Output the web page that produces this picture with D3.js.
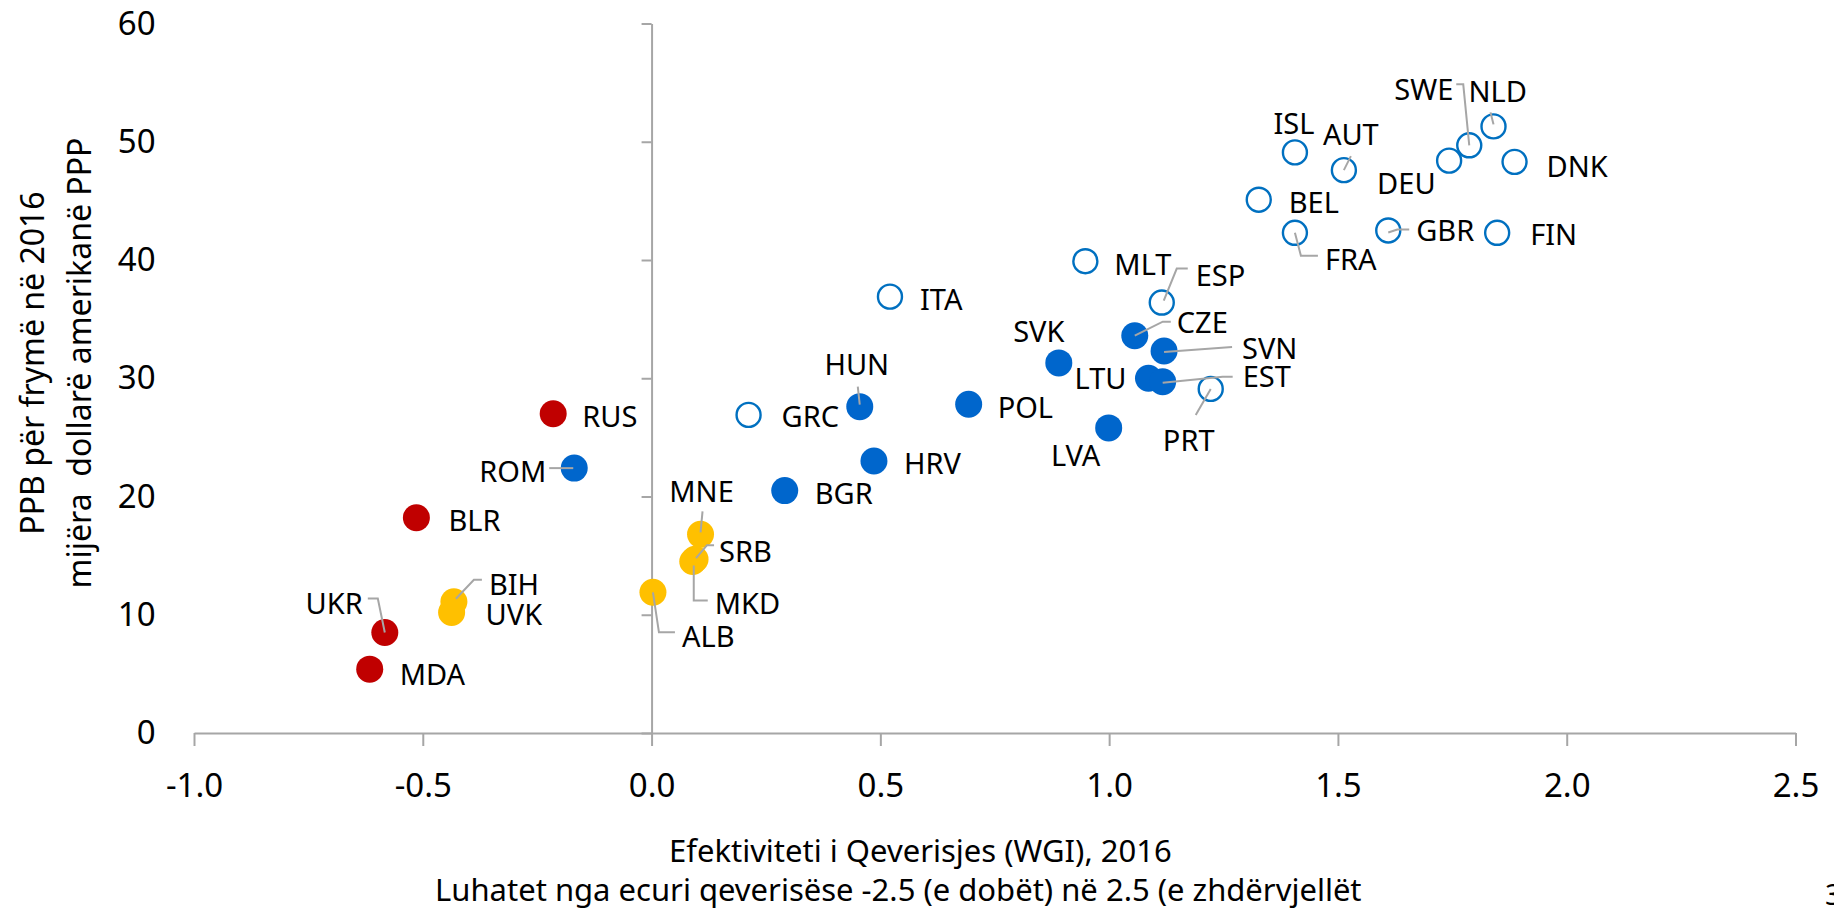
<!DOCTYPE html>
<html>
<head>
<meta charset="utf-8">
<script src="https://cdn.jsdelivr.net/npm/d3@7"></script>
<style>
  body { margin: 0; background: #fff; }
  svg text { font-family: "Noto Sans", "Open Sans", sans-serif; fill: #000; }
</style>
</head>
<body>
<svg width="1834" height="913"></svg>
<script>
// values
var countries = ["RUS", "ROM", "BLR", "UKR", "MDA", "BIH", "UVK", "ALB", "MNE", "SRB", "MKD",
    "GRC", "HUN", "BGR", "HRV", "ITA", "POL", "SVK", "MLT", "LVA", "ESP", "CZE", "SVN", "LTU",
    "EST", "PRT", "BEL", "FRA", "ISL", "AUT", "GBR", "DEU", "SWE", "NLD", "DNK", "FIN"];
var govEff = [-0.215, -0.169, -0.514, -0.583, -0.616, -0.432, -0.437, 0.003, 0.107, 0.095, 0.09,
    0.212, 0.455, 0.291, 0.486, 0.521, 0.693, 0.89, 0.948, 0.999, 1.115, 1.056, 1.12, 1.086,
    1.117, 1.222, 1.327, 1.406, 1.406, 1.513, 1.61, 1.743, 1.787, 1.84, 1.886, 1.848];
var gdpPc = [27.0, 22.4, 18.2, 8.5, 5.4, 11.1, 10.2, 11.9, 16.8, 14.7, 14.5,
    26.9, 27.6, 20.5, 23.0, 36.9, 27.8, 31.3, 39.9, 25.8, 36.4, 33.6, 32.3, 30.0,
    29.7, 29.1, 45.1, 42.3, 49.1, 47.6, 42.5, 48.4, 49.7, 51.3, 48.3, 42.3];
var groups = ["cis", "new", "cis", "cis", "cis", "wb", "wb", "wb", "wb", "wb", "wb",
    "old", "new", "new", "new", "old", "new", "new", "old", "new", "old", "new", "new", "new",
    "new", "old", "old", "old", "old", "old", "old", "old", "old", "old", "old", "old"];
var xTicks = [-1.0, -0.5, 0.0, 0.5, 1.0, 1.5, 2.0, 2.5];
var yTicks = [0, 10, 20, 30, 40, 50, 60];

// label placement (px from the marker) and leader lines
var labelPos = {
    RUS: [29, 3, "start"], ROM: [-28, 3, "end"], BLR: [32, 3, "start"], UKR: [-22, -29, "end"],
    MDA: [30, 5, "start"], BIH: [35, -17, "start"], UVK: [34, 2, "start"], ALB: [29, 44, "start"],
    MNE: [1, -43, "middle"], SRB: [24, -8, "start"], MKD: [22, 42, "start"], GRC: [33, 2, "start"],
    HUN: [-3, -42, "middle"], BGR: [30, 3, "start"], HRV: [30, 3, "start"], ITA: [30, 3, "start"],
    POL: [29, 3, "start"], SVK: [-20, -31, "middle"], MLT: [29, 3, "start"], LVA: [-33, 28, "middle"],
    ESP: [34, -27, "start"], CZE: [42, -13, "start"], SVN: [78, -2, "start"], LTU: [-22, 0, "end"],
    EST: [80, -5, "start"], PRT: [-22, 52, "middle"], BEL: [30, 3, "start"], FRA: [30, 27, "start"],
    ISL: [-1, -29, "middle"], AUT: [-21, -36, "start"], GBR: [28, 0, "start"], DEU: [-72, 23, "start"],
    SWE: [-16, -56, "end"], NLD: [-25, -35, "start"], DNK: [32, 5, "start"], FIN: [33, 2, "start"]
};
var leaders = {
    ROM: [[-25, 0], [-1, 0]],
    UKR: [[-17, -34], [-7, -34], [0, 0]],
    BIH: [[28, -22], [20, -22], [2, -3]],
    ALB: [[0, 0], [6, 40], [22, 40]],
    MNE: [[2, -23], [0, -2]],
    SRB: [[19, -14], [12, -14], [1, -1]],
    MKD: [[1, 4], [1, 39], [15, 39]],
    HUN: [[-2, -20], [0, -2]],
    ESP: [[26, -34], [15, -34], [2, -2]],
    CZE: [[36, -14], [28, -14], [0, 0]],
    SVN: [[0, 1], [68, -4]],
    EST: [[0, 1], [60, -5], [70, -5]],
    PRT: [[-15, 26], [0, 0]],
    FRA: [[0, 0], [6, 23], [23, 23]],
    AUT: [[0, 0], [7, -14]],
    GBR: [[0, 2], [9, -1], [21, -1]],
    SWE: [[-13, -61], [-6, -61], [0, 0]],
    NLD: [[-3, -14], [0, -2]]
};

var colors = { cis: "#C00000", new: "#0066CC", wb: "#FFC000", old: "#0070C0" };

var svg = d3.select("svg");
var x = d3.scaleLinear().domain([-1, 2.5]).range([194, 1795.5]);
var y = d3.scaleLinear().domain([0, 60]).range([733, 23.5]);

var data = countries.map(function (c, i) {
    return { name: c, gx: govEff[i], gy: gdpPc[i], group: groups[i] };
});

// axes
var xAxis = svg.append("g")
    .attr("transform", "translate(0," + y(0) + ")")
    .call(d3.axisBottom(x).tickValues(xTicks).tickFormat(d3.format(".1f"))
        .tickSizeInner(13).tickSizeOuter(0).tickPadding(28));

var yAxis = svg.append("g")
    .attr("transform", "translate(" + x(0) + ",0)")
    .call(d3.axisLeft(y).tickValues(yTicks).tickSizeInner(10).tickSizeOuter(0).tickPadding(486));

[xAxis, yAxis].forEach(function (a) {
    a.selectAll("path, line").attr("stroke", "#A6A6A6").attr("stroke-width", 2);
    a.selectAll("text").attr("font-size", 33).attr("fill", "#000")
        .style("font-family", "'Noto Sans', sans-serif");
});
xAxis.selectAll("text").text(function (d) { return d3.format(".1f")(d).replace("−", "-"); });

// markers
svg.append("g").selectAll("circle")
    .data(data)
    .enter().append("circle")
    .attr("cx", function (d) { return x(d.gx); })
    .attr("cy", function (d) { return y(d.gy); })
    .attr("r", function (d) { return d.group == "old" ? 12 : 13.5; })
    .attr("fill", function (d) { return d.group == "old" ? "#fff" : colors[d.group]; })
    .attr("stroke", function (d) { return d.group == "old" ? colors.old : "none"; })
    .attr("stroke-width", 2.4);

// leader lines
var line = d3.line();
svg.append("g").selectAll("path")
    .data(data.filter(function (d) { return leaders[d.name]; }))
    .enter().append("path")
    .attr("d", function (d) {
        var px = x(d.gx), py = y(d.gy);
        return line(leaders[d.name].map(function (p) { return [px + p[0], py + p[1]]; }));
    })
    .attr("fill", "none")
    .attr("stroke", "#A6A6A6")
    .attr("stroke-width", 2);

// country labels
svg.append("g").selectAll("text")
    .data(data)
    .enter().append("text")
    .attr("x", function (d) { return x(d.gx) + labelPos[d.name][0]; })
    .attr("y", function (d) { return y(d.gy) + labelPos[d.name][1]; })
    .attr("dy", "0.36em")
    .attr("text-anchor", function (d) { return labelPos[d.name][2]; })
    .attr("font-size", 29)
    .text(function (d) { return d.name; });

// axis titles
svg.append("text")
    .attr("x", 669).attr("y", 862)
    .attr("font-size", 31)
    .text("Efektiviteti i Qeverisjes (WGI), 2016");
svg.append("text")
    .attr("x", 435).attr("y", 901)
    .attr("font-size", 31)
    .text("Luhatet nga ecuri qeverisëse -2.5 (e dobët) në 2.5 (e zhdërvjellët");

var yTitle = svg.append("g").attr("transform", "translate(0,363) rotate(-90)");
yTitle.append("text")
    .attr("x", 0).attr("y", 44)
    .attr("text-anchor", "middle")
    .attr("font-size", 32)
    .text("PPB për frymë në 2016");
yTitle.append("text")
    .attr("x", 0).attr("y", 91)
    .attr("text-anchor", "middle")
    .attr("font-size", 32)
    .style("white-space", "pre")
    .text("mijëra  dollarë amerikanë PPP");

// page number, cut by the edge
svg.append("text")
    .attr("x", 1825).attr("y", 905)
    .attr("font-size", 29)
    .text("3");
</script>
</body>
</html>
